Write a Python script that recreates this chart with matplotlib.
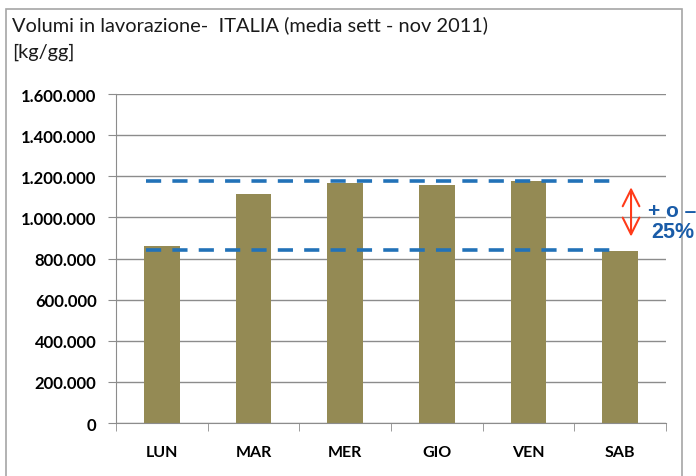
import matplotlib.pyplot as plt
from matplotlib.patches import Rectangle
from matplotlib.ticker import FuncFormatter, MultipleLocator

giorni = ['LUN', 'MAR', 'MER', 'GIO', 'VEN', 'SAB']
volumi = [861000, 1114000, 1167000, 1157000, 1177000, 836000]
livello_alto = 1177000
livello_basso = 841000

plt.rcParams['font.family'] = ['Lato', 'DejaVu Sans']

fig = plt.figure(figsize=(6.96, 4.77), dpi=100)
ax = fig.add_axes([0.1667, 0.1111, 0.790, 0.6897])

x = list(range(len(giorni)))
ax.bar(x, volumi, width=0.39, color='#948A54', zorder=2)

# linee di riferimento tratteggiate
for liv in (livello_alto, livello_basso):
    ax.plot([-0.17, 5.0], [liv, liv], color='#2272B8', lw=2.6,
            dashes=(4.2, 3.1), zorder=3)

ax.set_xlim(-0.5, 5.5)
ax.set_ylim(0, 1600000)
ax.yaxis.set_major_locator(MultipleLocator(200000))
ax.yaxis.set_major_formatter(FuncFormatter(lambda v, p: f'{int(v):,}'.replace(',', '.')))
ax.grid(axis='y', color='#8C8C8C', lw=1, zorder=0)

ax.set_xticks(x)
ax.set_xticklabels(giorni, fontsize=11.5, fontweight='bold')
ax.set_xticks([i + 0.5 for i in range(-1, 6)], minor=True)
ax.tick_params(axis='x', which='major', length=0, pad=16)
ax.tick_params(axis='x', which='minor', length=6, color='#8C8C8C')
ax.tick_params(axis='y', length=6, color='#8C8C8C', labelsize=12, pad=8)
for lab in ax.get_yticklabels():
    lab.set_fontweight('bold')

for s in ('top', 'right'):
    ax.spines[s].set_visible(False)
for s in ('left', 'bottom'):
    ax.spines[s].set_color('#8C8C8C')

# freccia e annotazione
ax.annotate('', xy=(5.12, 1160000), xytext=(5.12, 893000),
            arrowprops=dict(arrowstyle='<->', color='#FF3B1A', lw=1.5,
                            mutation_scale=30),
            annotation_clip=False)
fig.text(0.931, 0.545, '+ o \u2013', fontsize=15, fontweight='bold',
         color='#1A5CA8', family=['Liberation Sans', 'DejaVu Sans'])
fig.text(0.935, 0.501, '25%', fontsize=15.5, fontweight='bold',
         color='#1A5CA8', family=['Liberation Sans', 'DejaVu Sans'])

# titolo
fig.text(0.017, 0.935, 'Volumi in lavorazione-  ITALIA (media sett - nov 2011)',
         fontsize=14.4, color='#1A1A1A')
fig.text(0.017, 0.880, '[kg/gg]', fontsize=14.4, color='#1A1A1A')

# cornice
fig.patches.append(Rectangle((0.009, -0.05), 0.971, 1.03, transform=fig.transFigure,
                             fill=False, edgecolor='#A6A6A6', lw=1.2))

fig.savefig('out.png', dpi=100)
